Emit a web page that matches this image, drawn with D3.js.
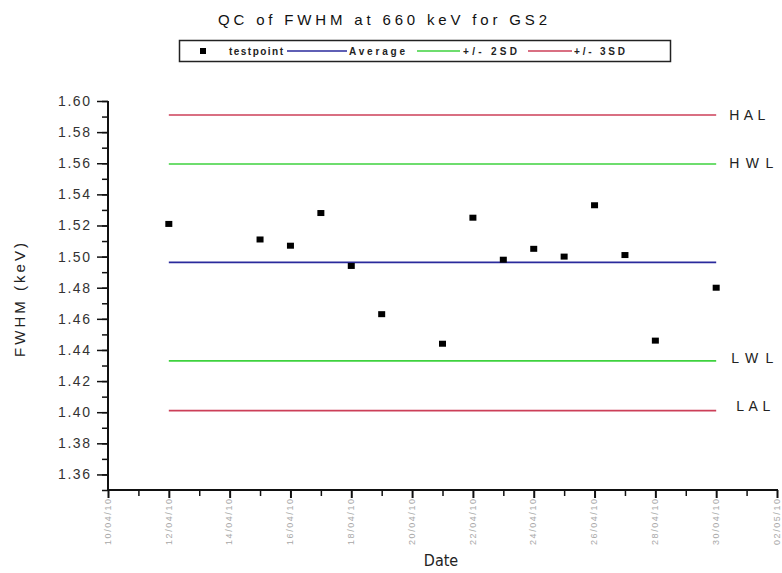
<!DOCTYPE html>
<html>
<head>
<meta charset="utf-8">
<script src="https://cdn.jsdelivr.net/npm/d3@7"></script>
<style>
  html, body { margin: 0; padding: 0; background: #fff; }
  svg { display: block; }
</style>
</head>
<body>
<svg id="chart" width="782" height="573"></svg>
<script>
// ---- data ----
const titleText = "QC of FWHM at 660 keV for GS2";
const xTitle = "Date";
const yTitle = "FWHM (keV)";

const testDates = ["12/04/10","15/04/10","16/04/10","17/04/10","18/04/10","19/04/10","21/04/10",
                   "22/04/10","23/04/10","24/04/10","25/04/10","26/04/10","27/04/10","28/04/10","30/04/10"];
const testValues = [1.521, 1.511, 1.507, 1.528, 1.494, 1.463, 1.444,
                    1.525, 1.498, 1.505, 1.500, 1.533, 1.501, 1.446, 1.480];

const lineDates = ["12/04/10", "30/04/10"];
const limitNames  = ["HAL", "HWL", "Average", "LWL", "LAL"];
const limitValues = [1.591, 1.5595, 1.4963, 1.433, 1.401];
const limitLabels = ["HAL", "HWL", "", "LWL", "LAL"];

const xDomain = ["10/04/10", "02/05/10"];
const xTickLabels = ["10/04/10","12/04/10","14/04/10","16/04/10","18/04/10","20/04/10",
                     "22/04/10","24/04/10","26/04/10","28/04/10","30/04/10","02/05/10"];
const yDomain = [1.35, 1.60];
const yTickValues = [1.36,1.38,1.40,1.42,1.44,1.46,1.48,1.50,1.52,1.54,1.56,1.58,1.60];

const legendNames = ["testpoint", "Average", "+/- 2SD", "+/- 3SD"];

// ---- styles ----
const colors = { Average: "#2a2a9c", HWL: "#3ed23e", LWL: "#3ed23e", HAL: "#cc3f58", LAL: "#cc3f58" };
const legendColors = { "Average": "#2a2a9c", "+/- 2SD": "#3ed23e", "+/- 3SD": "#cc3f58" };

const parse = d3.timeParse("%d/%m/%y");
const svg = d3.select("#chart");

const x = d3.scaleTime().domain(xDomain.map(parse)).range([108, 777]);
const y = d3.scaleLinear().domain(yDomain).range([490, 101]);

// title
svg.append("text")
  .attr("x", 218).attr("y", 25)
  .attr("font-family", "Arial, 'Liberation Sans', sans-serif")
  .attr("font-size", 15)
  .attr("fill", "#111")
  .attr("textLength", 329)
  .attr("lengthAdjust", "spacing")
  .text(titleText);

// legend
const lg = svg.append("g");
lg.append("rect").attr("x", 179.5).attr("y", 40.5).attr("width", 491).attr("height", 21)
  .attr("fill", "#fff").attr("stroke", "#222").attr("stroke-width", 1.5);
const legFont = "Arial, 'Liberation Sans', sans-serif";
const legItems = [
  { name: legendNames[0], sym: "square", sx: 200, tx: 229, tl: 54 },
  { name: legendNames[1], sym: "line", sx: 287, ex: 347, tx: 349, tl: 56 },
  { name: legendNames[2], sym: "line", sx: 417, ex: 460, tx: 463, tl: 54 },
  { name: legendNames[3], sym: "line", sx: 528, ex: 572, tx: 574, tl: 51 }
];
legItems.forEach(it => {
  if (it.sym === "square") {
    lg.append("rect").attr("x", it.sx).attr("y", 48).attr("width", 6).attr("height", 6).attr("fill", "#000");
  } else {
    lg.append("line").attr("x1", it.sx).attr("x2", it.ex).attr("y1", 51).attr("y2", 51)
      .attr("stroke", legendColors[it.name]).attr("stroke-width", 1.5);
  }
  lg.append("text").attr("x", it.tx).attr("y", 55)
    .attr("font-family", legFont).attr("font-size", 10).attr("font-weight", "bold")
    .attr("fill", "#222")
    .attr("textLength", it.tl).attr("lengthAdjust", "spacing")
    .text(it.name);
});

// y axis
const yMinor = d3.range(1.35, 1.6001, 0.01).map(v => +v.toFixed(2));
const yAxisG = svg.append("g").attr("transform", "translate(108,0)");
yAxisG.call(d3.axisLeft(y).tickValues(yMinor).tickSize(6).tickFormat(""))
  .call(g => g.select(".domain").remove())
  .call(g => g.selectAll(".tick line").attr("stroke", "#111").attr("stroke-width", 1.5));
const yMajG = svg.append("g").attr("transform", "translate(108,0)");
yMajG.call(d3.axisLeft(y).tickValues(yTickValues).tickSize(11).tickPadding(7).tickFormat(d3.format(".2f")))
  .call(g => g.select(".domain").remove())
  .call(g => g.selectAll(".tick line").attr("stroke", "#111").attr("stroke-width", 1.5))
  .call(g => g.selectAll(".tick text").attr("font-family", "Arial, 'Liberation Sans', sans-serif")
      .attr("font-size", 14).attr("fill", "#333")
      .attr("textLength", 32).attr("lengthAdjust", "spacing"));
svg.append("line").attr("x1", 108).attr("x2", 108).attr("y1", y(yDomain[1])).attr("y2", y(yDomain[0]))
  .attr("stroke", "#111").attr("stroke-width", 2);

svg.append("text")
  .attr("transform", "translate(25,300) rotate(-90)")
  .attr("text-anchor", "middle")
  .attr("font-family", "Arial, 'Liberation Sans', sans-serif")
  .attr("font-size", 15).attr("fill", "#222")
  .attr("textLength", 114).attr("lengthAdjust", "spacing")
  .text(yTitle);

// x axis
const xDays = d3.timeDay.range(parse(xDomain[0]), d3.timeDay.offset(parse(xDomain[1]), 1));
const xMinorG = svg.append("g").attr("transform", "translate(0,490)");
xMinorG.call(d3.axisBottom(x).tickValues(xDays.filter((d, i) => i % 2 === 1)).tickSize(6).tickFormat(""))
  .call(g => g.select(".domain").remove())
  .call(g => g.selectAll(".tick line").attr("stroke", "#111").attr("stroke-width", 1.5));
const xMajG = svg.append("g").attr("transform", "translate(0,490)");
xMajG.call(d3.axisBottom(x).tickValues(xTickLabels.map(parse)).tickSize(8).tickFormat(d3.timeFormat("%d/%m/%y")))
  .call(g => g.select(".domain").remove())
  .call(g => g.selectAll(".tick line").attr("stroke", "#111").attr("stroke-width", 2))
  .call(g => g.selectAll(".tick text")
      .attr("transform", "rotate(-90)")
      .attr("text-anchor", "end")
      .attr("x", -9).attr("y", 0).attr("dy", "0.25em")
      .attr("font-family", "Arial, 'Liberation Sans', sans-serif")
      .attr("font-size", 9).attr("fill", "#a8a8a8")
      .attr("textLength", 46).attr("lengthAdjust", "spacing"));
svg.append("line").attr("x1", 107).attr("x2", 778).attr("y1", 490).attr("y2", 490)
  .attr("stroke", "#111").attr("stroke-width", 2);

svg.append("text")
  .attr("x", 441).attr("y", 566)
  .attr("text-anchor", "middle")
  .attr("font-family", "'Liberation Sans Narrow', 'DejaVu Sans Condensed', sans-serif")
  .attr("font-size", 16).attr("fill", "#222")
  .text(xTitle);

// limit lines
const lineGen = d3.line().x(d => x(d[0])).y(d => y(d[1]));
limitNames.forEach((n, i) => {
  const pts = lineDates.map(d => [parse(d), limitValues[i]]);
  svg.append("path").attr("d", lineGen(pts)).attr("fill", "none")
    .attr("stroke", colors[n]).attr("stroke-width", 1.6);
});
const labelDx = { HAL: 13, HWL: 13, LWL: 15, LAL: 20 };
const labelDy = { HAL: 0, HWL: -1, LWL: -3, LAL: -5 };
const labelLen = { HAL: 36, HWL: 44, LWL: 42, LAL: 34 };
limitNames.forEach((n, i) => {
  if (!limitLabels[i]) return;
  svg.append("text")
    .attr("x", x(parse(lineDates[1])) + labelDx[n])
    .attr("y", y(limitValues[i]) + labelDy[n])
    .attr("dy", "0.36em")
    .attr("font-family", "Arial, 'Liberation Sans', sans-serif")
    .attr("font-size", 14).attr("fill", "#222")
    .attr("textLength", labelLen[n]).attr("lengthAdjust", "spacing")
    .text(limitLabels[i]);
});

// test points
svg.append("g").selectAll("rect")
  .data(testDates.map((d, i) => [parse(d), testValues[i]]))
  .join("rect")
  .attr("x", d => x(d[0]) - 3.5)
  .attr("y", d => y(d[1]) - 3)
  .attr("width", 7).attr("height", 6)
  .attr("fill", "#000");
</script>
</body>
</html>
